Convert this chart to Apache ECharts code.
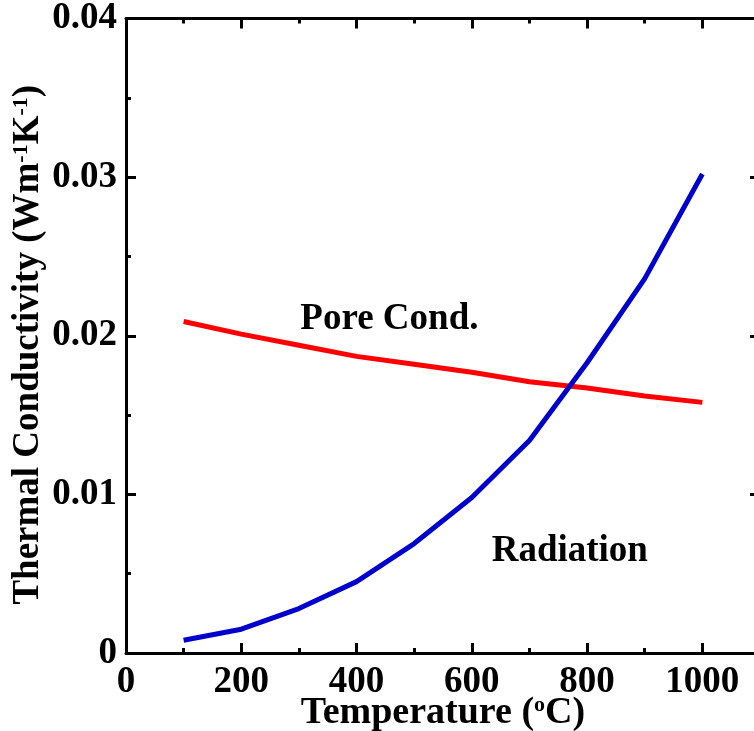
<!DOCTYPE html>
<html><head><meta charset="utf-8">
<script src="https://cdn.jsdelivr.net/npm/echarts@6/dist/echarts.min.js"></script>
<style>html,body{margin:0;padding:0;background:#fff;overflow:hidden}#c{width:754px;height:731px}</style>
</head><body><div id="c"></div>
<script>
var temps = [100,200,300,400,500,600,700,800,900,1000];
var poreCond = [0.0209,0.0201,0.0194,0.0187,0.0182,0.0177,0.0171,0.0167,0.0162,0.0158];
var radiation = [0.0008,0.0015,0.0028,0.0045,0.0069,0.0098,0.0134,0.0183,0.0236,0.0302];
var xTicks = [0,200,400,600,800,1000];
var xMinor = [100,300,500,700,900];
var xTitle = 'Temperature';
var yTitle = 'Thermal Conductivity';
var labels = [{text:'Pore Cond.', x:457, y:0.0210}, {text:'Radiation', x:770, y:0.0064}];

var FONT = '"Liberation Serif","Times New Roman",serif';
var chart = echarts.init(document.getElementById('c'));
function pairs(a){ return temps.map(function(t,i){return [t,a[i]];}); }
var tickStyle = {color:'#000', width:3};
function yAxisCommon(){ return {
  axisLine:{show:true, onZero:false, lineStyle:tickStyle},
  axisTick:{show:true, inside:true, length:10, lineStyle:tickStyle},
  minorTick:{show:true, splitNumber:2, length:5, lineStyle:tickStyle},
  splitLine:{show:false}, nameMoveOverlap:false
};}
function xAxisCommon(){ return {
  type:'value', min:0, max:1100, interval:200,
  axisLine:{show:true, onZero:false, lineStyle:tickStyle},
  axisTick:{show:true, inside:true, length:10, lineStyle:tickStyle, customValues:xTicks},
  minorTick:{show:false},
  splitLine:{show:false}, nameMoveOverlap:false
};}
var supStyle = {fontFamily:FONT, fontWeight:'bold', fontSize:22, color:'#000', verticalAlign:'top', padding:[0,0,14,0]};
var nStyle = {fontFamily:FONT, fontWeight:'bold', fontSize:37, color:'#000'};
var nStyleX = {fontFamily:FONT, fontWeight:'bold', fontSize:38, color:'#000'};

var xb = Object.assign(xAxisCommon(), {position:'bottom',
  axisLabel:{fontFamily:FONT, fontWeight:'bold', fontSize:37, color:'#000', margin:11, customValues:xTicks,
    formatter:function(v){return String(v);}},
  name:'{n|' + xTitle + ' (}{s|o}{n|C)}', nameLocation:'middle', nameGap:41,
  nameTextStyle:{rich:{n:nStyleX, s:supStyle}}});
var xt = Object.assign(xAxisCommon(), {position:'top', axisLabel:{show:false}});
var xbm = Object.assign(xAxisCommon(), {position:'bottom', axisLine:{show:false, onZero:false},
  axisTick:{show:true, inside:true, length:5, lineStyle:tickStyle, customValues:xMinor}, axisLabel:{show:false}});
var xtm = Object.assign(xAxisCommon(), {position:'top', axisLine:{show:false, onZero:false},
  axisTick:{show:true, inside:true, length:5, lineStyle:tickStyle, customValues:xMinor}, axisLabel:{show:false}});

var yl = Object.assign(yAxisCommon(), {type:'value', min:0, max:0.04, interval:0.01, position:'left',
  axisLabel:{fontFamily:FONT, fontWeight:'bold', fontSize:37, color:'#000', margin:9,
    formatter:function(v){return v === 0 ? '0' : v.toFixed(2);}},
  name:'{n|' + yTitle + ' (Wm}{s|-1}{n|K}{s|-1}{n|)}', nameLocation:'middle', nameGap:79,
  nameTextStyle:{padding:[0,18,0,0], rich:{n:nStyle, s:supStyle}}});
var yr = Object.assign(yAxisCommon(), {type:'value', min:0, max:0.04, interval:0.01, position:'right',
  axisLabel:{show:false}});
yr.axisLine = {show:false, onZero:false};

chart.setOption({
  animation:false,
  grid:{left:126, right:-6, top:18.5, bottom:78, containLabel:false, outerBoundsMode:'none'},
  xAxis:[xb, xt, xbm, xtm],
  yAxis:[yl, yr],
  series:[
    {type:'line', name:'Pore Cond.', data:pairs(poreCond), showSymbol:false, symbol:'none',
     lineStyle:{color:'#ff0000', width:5}, z:3},
    {type:'line', name:'Radiation', data:pairs(radiation), showSymbol:false, symbol:'none',
     lineStyle:{color:'#0000cc', width:5}, z:4},
    {type:'scatter', data:labels.map(function(l){return {value:[l.x,l.y], name:l.text};}),
     symbolSize:0, silent:true, itemStyle:{opacity:1},
     label:{show:true, position:'inside', opacity:1, formatter:function(p){return p.name;},
       fontFamily:FONT, fontWeight:'bold', fontSize:37, color:'#000'}}
  ]
});
</script></body></html>
